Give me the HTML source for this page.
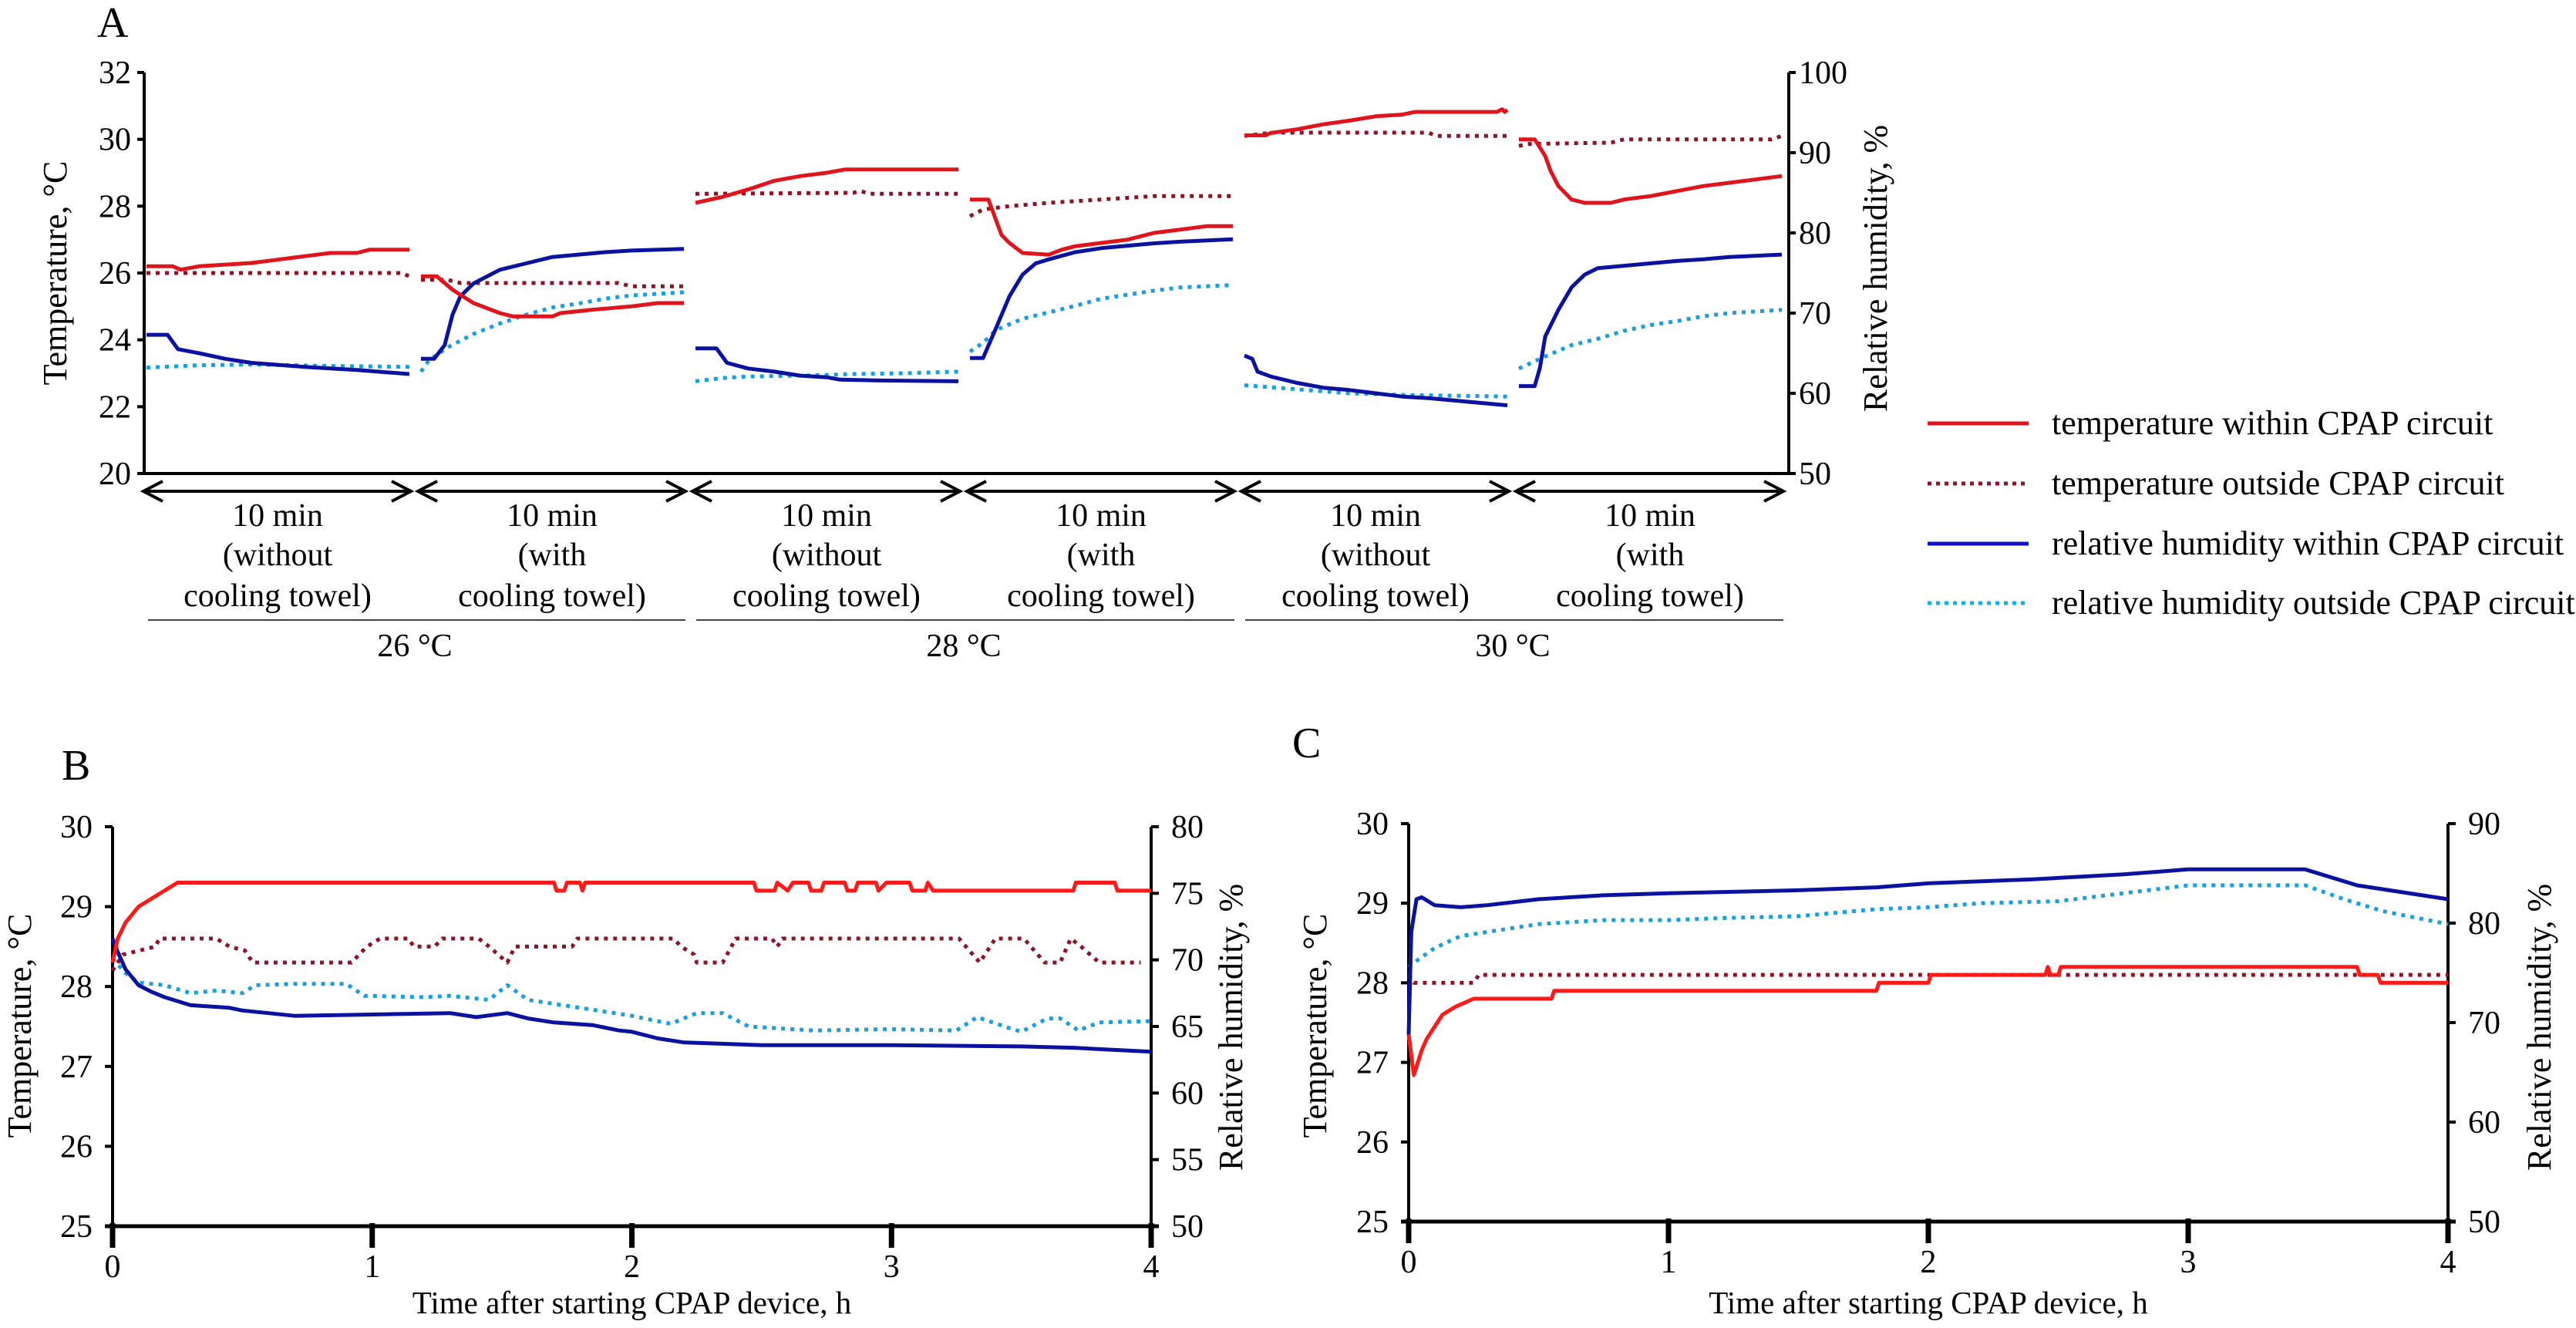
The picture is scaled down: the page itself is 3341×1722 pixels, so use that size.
<!DOCTYPE html>
<html><head><meta charset="utf-8"><title>CPAP temperature and humidity</title>
<style>
html,body{margin:0;padding:0;background:#fff;}
svg{display:block;font-family:"Liberation Serif","Times New Roman",serif;}
svg text{font-family:"Liberation Serif","Times New Roman",serif;}
</style></head>
<body>
<svg id="fig" xmlns="http://www.w3.org/2000/svg" width="3341" height="1722" viewBox="0 0 3341 1722">
<rect width="3341" height="1722" fill="#fff"/>
<g id="panelA"></g>
<g id="panelB"></g>
<g id="panelC"></g>
<g id="legend"></g>
</svg>
<script>
// ===== Panel A data: 6 segments, each series as [minute, value] pairs =====
const aSegLabels = ["(without", "(with", "(without", "(with", "(without", "(with"];
const aGroupLabels = ["26 °C", "28 °C", "30 °C"];
const aTempTicks = [20, 22, 24, 26, 28, 30, 32];
const aRHTicks = [50, 60, 70, 80, 90, 100];
const aTempIn = [
 [[0,26.2],[1,26.2],[1.3,26.1],[2,26.2],[4,26.3],[5,26.4],[6,26.5],[7,26.6],[8,26.6],[8.5,26.7],[10,26.7]],
 [[0,25.9],[0.6,25.9],[1.2,25.5],[2,25.1],[3,24.8],[3.5,24.7],[5,24.7],[5.3,24.8],[6.5,24.9],[8,25.0],[9,25.1],[10,25.1]],
 [[0,28.1],[1,28.27],[2,28.5],[3,28.76],[4,28.9],[5,29.0],[5.7,29.1],[10,29.1]],
 [[0,28.2],[0.7,28.2],[1.2,27.14],[1.5,26.9],[2,26.6],[3,26.55],[3.5,26.7],[4,26.8],[5,26.9],[6,27.0],[7,27.2],[8,27.3],[9,27.4],[10,27.4]],
 [[0,30.12],[0.8,30.12],[1,30.19],[2,30.3],[3,30.45],[4,30.56],[5,30.69],[6,30.74],[6.5,30.82],[9.6,30.82],[9.8,30.9],[9.9,30.82],[10,30.88]],
 [[0,30.0],[0.6,30.0],[1,29.5],[1.2,29.06],[1.5,28.6],[2,28.2],[2.5,28.1],[3.5,28.1],[4,28.2],[5,28.3],[6,28.45],[7,28.6],[8,28.7],[9,28.8],[10,28.9]]
];
const aTempOut = [
 [[0,26.0],[9.7,26.0],[10,25.9]],
 [[0,25.8],[1,25.8],[1.5,25.7],[7.5,25.7],[8,25.6],[10,25.6]],
 [[0,28.37],[6,28.4],[6.3,28.45],[6.6,28.37],[10,28.37]],
 [[0,27.7],[0.5,27.9],[1.5,28.0],[3,28.1],[5,28.2],[7,28.3],[10,28.3]],
 [[0,30.1],[1,30.2],[7,30.2],[7.3,30.1],[10,30.1]],
 [[0,29.8],[0.3,29.86],[3.5,29.9],[4,30.0],[9.6,30.0],[10,30.1]]
];
const aRHIn = [
 [[0,67.3],[0.8,67.3],[1.2,65.5],[2,65.0],[3,64.3],[4,63.8],[6,63.3],[8,62.9],[10,62.4]],
 [[0,64.3],[0.5,64.3],[0.9,66.0],[1.2,69.8],[1.5,72.1],[2,73.7],[3,75.4],[4,76.2],[5,77.0],[6,77.3],[7,77.6],[8,77.8],[10,78.0]],
 [[0,65.6],[0.8,65.6],[1.2,63.8],[2,63.1],[3,62.7],[4,62.2],[5,62.0],[5.5,61.7],[7,61.6],[10,61.5]],
 [[0,64.4],[0.5,64.4],[1,68.2],[1.5,72.1],[2,74.8],[2.5,76.2],[3,76.7],[4,77.6],[5,78.1],[6,78.4],[7,78.7],[8,78.9],[10,79.2]],
 [[0,64.7],[0.3,64.3],[0.5,62.7],[1,62.1],[2,61.3],[3,60.7],[4,60.4],[5,60.0],[6,59.6],[7,59.4],[8,59.1],[9,58.8],[10,58.5]],
 [[0,60.9],[0.6,60.9],[0.8,63.2],[1,67.1],[1.5,70.4],[2,73.2],[2.5,74.8],[3,75.6],[4,75.9],[5,76.2],[6,76.5],[7,76.7],[8,77.0],[10,77.3]]
];
const aRHOut = [
 [[0,63.2],[2,63.5],[4,63.6],[7,63.4],[10,63.3]],
 [[0,62.7],[0.3,64.1],[1,65.7],[2,67.4],[3,68.7],[4,69.8],[5,70.7],[6,71.2],[7,71.8],[8,72.2],[10,72.6]],
 [[0,61.5],[1,61.9],[2,62.1],[4,62.2],[6,62.4],[8,62.5],[10,62.7]],
 [[0,65.2],[0.5,66.3],[1,67.9],[2,69.3],[3,70.1],[4,70.9],[5,71.8],[6,72.3],[7,72.8],[8,73.2],[10,73.5]],
 [[0,61.0],[2,60.5],[4,60.0],[6,59.8],[10,59.6]],
 [[0,63.1],[1,64.6],[2,66.0],[3,66.8],[4,67.8],[5,68.5],[6,69.0],[7,69.6],[8,70.0],[10,70.4]]
];

// ===== Panel B data (hours) =====
const bXTicks = [0, 1, 2, 3, 4];
const bTempTicks = [25, 26, 27, 28, 29, 30];
const bRHTicks = [50, 55, 60, 65, 70, 75, 80];
const bTempIn = [[0,28.3],[0.02,28.6],[0.05,28.8],[0.1,29.0],[0.15,29.1],[0.2,29.2],[0.25,29.3],[1.7,29.3],[1.71,29.2],[1.74,29.2],[1.75,29.3],[1.8,29.3],[1.81,29.2],[1.82,29.3],
 [2.47,29.3],[2.48,29.2],[2.55,29.2],[2.56,29.3],[2.6,29.2],[2.62,29.3],[2.68,29.3],[2.69,29.2],[2.73,29.2],[2.74,29.3],[2.82,29.3],[2.83,29.2],[2.86,29.2],[2.87,29.3],[2.94,29.3],[2.95,29.2],[2.98,29.3],[3.07,29.3],[3.08,29.2],[3.13,29.2],[3.14,29.3],[3.16,29.2],[3.7,29.2],[3.71,29.3],[3.86,29.3],[3.87,29.2],[4,29.2]];
const bTempOut = [[0,28.2],[0.04,28.4],[0.165,28.5],[0.18,28.6],[0.4,28.6],[0.45,28.5],[0.51,28.45],[0.54,28.3],[0.92,28.3],[0.98,28.5],[1.03,28.6],[1.14,28.6],[1.16,28.5],[1.24,28.5],[1.27,28.6],[1.41,28.6],[1.45,28.5],[1.52,28.3],[1.55,28.5],[1.77,28.5],[1.79,28.6],
 [2.16,28.6],[2.19,28.5],[2.24,28.4],[2.25,28.3],[2.35,28.3],[2.4,28.6],[2.54,28.6],[2.56,28.5],[2.58,28.6],[3.26,28.6],[3.34,28.3],[3.4,28.6],[3.51,28.6],[3.59,28.3],[3.65,28.3],[3.69,28.6],[3.73,28.5],[3.8,28.3],[3.96,28.3]];
const bRHIn = [[0,71.6],[0.02,70.6],[0.05,69.3],[0.1,68.1],[0.15,67.6],[0.2,67.2],[0.3,66.6],[0.45,66.4],[0.5,66.2],[0.6,66.0],[0.7,65.8],[1.0,65.9],[1.3,66.0],[1.4,65.7],[1.52,66.0],[1.6,65.6],[1.7,65.3],[1.85,65.1],[1.95,64.7],[2.0,64.6],[2.1,64.1],[2.2,63.8],[2.5,63.6],[3.0,63.6],[3.5,63.5],[3.7,63.4],[3.8,63.3],[4.0,63.1]];
const bRHOut = [[0,70.1],[0.05,69.0],[0.1,68.3],[0.2,68.1],[0.3,67.5],[0.4,67.7],[0.5,67.5],[0.55,68.1],[0.7,68.2],[0.9,68.2],[0.97,67.3],[1.2,67.2],[1.3,67.3],[1.45,67.0],[1.52,68.1],[1.6,67.0],[1.8,66.4],[2.0,65.8],[2.15,65.2],[2.25,66.0],[2.35,66.0],[2.45,65.0],[2.7,64.7],[3.0,64.8],[3.25,64.7],[3.33,65.7],[3.45,64.9],[3.5,64.6],[3.6,65.6],[3.65,65.6],[3.72,64.7],[3.8,65.3],[4.0,65.4]];

// ===== Panel C data (hours) =====
const cXTicks = [0, 1, 2, 3, 4];
const cTempTicks = [25, 26, 27, 28, 29, 30];
const cRHTicks = [50, 60, 70, 80, 90];
const cTempIn = [[0,27.35],[0.02,26.84],[0.05,27.15],[0.07,27.3],[0.1,27.45],[0.13,27.6],[0.18,27.7],[0.25,27.8],[0.55,27.8],[0.56,27.9],[1.8,27.9],[1.81,28.0],[2.0,28.0],[2.01,28.1],[2.45,28.1],[2.46,28.2],[2.47,28.1],[2.5,28.1],[2.51,28.2],[3.65,28.2],[3.66,28.1],[3.73,28.1],[3.74,28.0],[4,28.0]];
const cTempOut = [[0,28.1],[0.02,28.0],[0.25,28.0],[0.27,28.1],[4,28.1]];
const cRHIn = [[0,68.8],[0.01,79.1],[0.03,82.4],[0.05,82.6],[0.1,81.8],[0.2,81.6],[0.3,81.8],[0.5,82.4],[0.75,82.8],[1.0,83.0],[1.5,83.3],[1.8,83.6],[2.0,84.0],[2.4,84.4],[2.75,84.9],[3.0,85.4],[3.45,85.4],[3.65,83.8],[3.75,83.4],[4.0,82.4]];
const cRHOut = [[0,75.6],[0.03,76.2],[0.1,77.5],[0.2,78.7],[0.3,79.1],[0.5,79.9],[0.75,80.3],[1.0,80.3],[1.2,80.5],[1.5,80.7],[1.8,81.4],[2.0,81.6],[2.2,82.0],[2.5,82.2],[2.75,83.0],[3.0,83.8],[3.45,83.8],[3.6,82.4],[3.75,81.2],[4.0,79.9]];

const legendLabels = ["temperature within CPAP circuit","temperature outside CPAP circuit","relative humidity within CPAP circuit","relative humidity outside CPAP circuit"];

const NS = "http://www.w3.org/2000/svg";
const COL = {tin:"#e0141c", tout:"#8c1424", rin:"#0c12a0", rout:"#1a9ee0"};
function mk(parent, tag, attrs, text){
  const el = document.createElementNS(NS, tag);
  for (const k in attrs) el.setAttribute(k, attrs[k]);
  if (text !== undefined) el.textContent = text;
  parent.appendChild(el);
  return el;
}
function pathD(pts, fx, fy){
  return pts.map((p,i)=>(i?"L":"M")+fx(p[0]).toFixed(1)+" "+fy(p[1]).toFixed(1)).join(" ");
}
function series(g, pts, fx, fy, col, dotted, name){
  const p = mk(g, "path", {d:pathD(pts,fx,fy), fill:"none", stroke:col, "stroke-width":5, "stroke-linejoin":"round"});
  if (dotted) p.setAttribute("stroke-dasharray","5 7");
  
  
  return p;
}
function label(g, x, y, txt, size, anchor, name, rot){
  const t = mk(g, "text", {x:x, y:y, "font-size":size, "text-anchor":anchor||"middle", fill:"#000", "font-family":"Liberation Serif, Times New Roman, serif"}, txt);
  if (rot) t.setAttribute("transform", "rotate(-90 "+x+" "+y+")");
  
  
  return t;
}

// ===== Panel A =====
(function(){
  const g = document.getElementById("panelA");
  const L=187, R=2320, B=614, T=94;
  const segStart = k => 187 + k*356;
  const ax = (k)=> (t)=> segStart(k) + 3 + t*34.1;
  const aT = v => B - (v-20)*(B-T)/12;
  const aRH = v => B - (v-50)*(B-T)/50;
  label(g, 126, 48, "A", 56, "start", "panel-a-label");
  let ln = mk(g,"line",{x1:L,y1:T,x2:L,y2:B,stroke:"#000","stroke-width":4});
   
  ln = mk(g,"line",{x1:R,y1:T,x2:R,y2:B,stroke:"#000","stroke-width":4});
   
  ln = mk(g,"line",{x1:L-8,y1:B,x2:R+8,y2:B,stroke:"#000","stroke-width":4});
   
  aTempTicks.forEach(v=>{
    const y=aT(v);
    const tk = mk(g,"line",{x1:L-9,y1:y,x2:L,y2:y,stroke:"#000","stroke-width":4});
     
    label(g, 170, y+14, String(v), 42, "end", "a-left-tick-label");
  });
  aRHTicks.forEach(v=>{
    const y=aRH(v);
    const tk = mk(g,"line",{x1:R,y1:y,x2:R+9,y2:y,stroke:"#000","stroke-width":4});
     
    label(g, 2333, y+14, String(v), 42, "start", "a-right-tick-label");
  });
  label(g, 86, 354, "Temperature, °C", 44, "middle", "a-left-axis-title", true);
  label(g, 2447, 348, "Relative humidity, %", 44, "middle", "a-right-axis-title", true);
  for (let k=0;k<6;k++){
    series(g, aRHOut[k], ax(k), aRH, COL.rout, true, "a-rh-outside-seg"+(k+1));
    series(g, aTempOut[k], ax(k), aT, COL.tout, true, "a-temp-outside-seg"+(k+1));
    series(g, aRHIn[k], ax(k), aRH, COL.rin, false, "a-rh-within-seg"+(k+1));
    series(g, aTempIn[k], ax(k), aT, COL.tin, false, "a-temp-within-seg"+(k+1));
  }
  for (let k=0;k<6;k++){
    const x1 = segStart(k)-1, x2 = segStart(k)+346, y=637;
    const a = mk(g,"path",{d:"M"+x1+" "+y+" L"+x2+" "+y+" M"+(x1+25)+" "+(y-13)+" L"+x1+" "+y+" L"+(x1+25)+" "+(y+13)+" M"+(x2-25)+" "+(y-13)+" L"+x2+" "+y+" L"+(x2-25)+" "+(y+13),fill:"none",stroke:"#000","stroke-width":4});
     
    const cx = segStart(k)+173;
    label(g, cx, 682, "10 min", 42, "middle", "segment-duration-label");
    label(g, cx, 733, aSegLabels[k], 42, "middle", "segment-condition-label");
    label(g, cx, 786, "cooling towel)", 42, "middle", "segment-condition-label");
  }
  for (let j=0;j<3;j++){
    const x1 = j===0?192:segStart(2*j)+4, x2 = segStart(2*j+1)+346;
    const u = mk(g,"line",{x1:x1,y1:804,x2:x2,y2:804,stroke:"#444","stroke-width":2});
     
    label(g, (segStart(2*j)+segStart(2*j+1)+346)/2, 851, aGroupLabels[j], 42, "middle", "room-temperature-label");
  }
})();

// ===== Panels B, C =====
function longPanel(gid, o){
  const g = document.getElementById(gid);
  const fx = t => o.L + t*(o.R-o.L)/4;
  const fT = v => o.B - (v-25)*(o.B-o.T)/5;
  const fRH = v => o.B - (v-o.rhMin)*(o.B-o.T)/(o.rhMax-o.rhMin);
  label(g, o.lx, o.ly, o.letter, 56, "start", o.p+"-label");
  let ln = mk(g,"line",{x1:o.L,y1:o.T,x2:o.L,y2:o.B,stroke:"#000","stroke-width":4});
   
  ln = mk(g,"line",{x1:o.R,y1:o.T,x2:o.R,y2:o.B,stroke:"#000","stroke-width":4});
   
  ln = mk(g,"line",{x1:o.L-10,y1:o.B,x2:o.R+10,y2:o.B,stroke:"#000","stroke-width":5});
   
  o.xt.forEach(v=>{
    const x=fx(v);
    const tk = mk(g,"line",{x1:x,y1:o.B-4,x2:x,y2:o.B+28,stroke:"#000","stroke-width":7});
     
    label(g, x, o.B+66, String(v), 42, "middle", o.p+"-x-tick-label");
  });
  o.tt.forEach(v=>{
    const y=fT(v);
    const tk = mk(g,"line",{x1:o.L-10,y1:y,x2:o.L,y2:y,stroke:"#000","stroke-width":4});
     
    label(g, o.L-26, y+14, String(v), 42, "end", o.p+"-left-tick-label");
  });
  o.rt.forEach(v=>{
    const y=fRH(v);
    const tk = mk(g,"line",{x1:o.R,y1:y,x2:o.R+10,y2:y,stroke:"#000","stroke-width":4});
     
    label(g, o.R+26, y+14, String(v), 42, "start", o.p+"-right-tick-label");
  });
  label(g, o.ytx, 1330, "Temperature, °C", 44, "middle", o.p+"-left-axis-title", true);
  label(g, o.rtx, 1332, "Relative humidity, %", 44, "middle", o.p+"-right-axis-title", true);
  label(g, (o.L+o.R)/2, 1703, "Time after starting CPAP device, h", 41, "middle", o.p+"-x-axis-title");
  series(g, o.rout, fx, fRH, COL.rout, true, o.p+"-rh-outside");
  series(g, o.tout, fx, fT, COL.tout, true, o.p+"-temp-outside");
  series(g, o.rin, fx, fRH, COL.rin, false, o.p+"-rh-within");
  series(g, o.tin, fx, fT, "#ff1a1a", false, o.p+"-temp-within");
}
longPanel("panelB",{p:"b",letter:"B",lx:80,ly:1011,L:146,R:1493,T:1072,B:1590,rhMin:50,rhMax:80,
  xt:bXTicks,tt:bTempTicks,rt:bRHTicks,ytx:40,rtx:1611,tin:bTempIn,tout:bTempOut,rin:bRHIn,rout:bRHOut});
longPanel("panelC",{p:"c",letter:"C",lx:1676,ly:982,L:1827,R:3175,T:1068,B:1584,rhMin:50,rhMax:90,
  xt:cXTicks,tt:cTempTicks,rt:cRHTicks,ytx:1720,rtx:3308,tin:cTempIn,tout:cTempOut,rin:cRHIn,rout:cRHOut});

// ===== Legend =====
(function(){
  const g = document.getElementById("legend");
  const cols=[COL.tin,COL.tout,"#1010c8","#10b0f0"], dots=[false,true,false,true], ys=[549,627,705,782];
  legendLabels.forEach((txt,i)=>{
    const l = mk(g,"line",{x1:2500,y1:ys[i],x2:2631,y2:ys[i],stroke:cols[i],"stroke-width":5});
    if (dots[i]) l.setAttribute("stroke-dasharray","5 6");
     
    label(g, 2661, ys[i]+14, txt, 44, "start", "legend-entry-label");
  });
})();
</script>
</body></html>
